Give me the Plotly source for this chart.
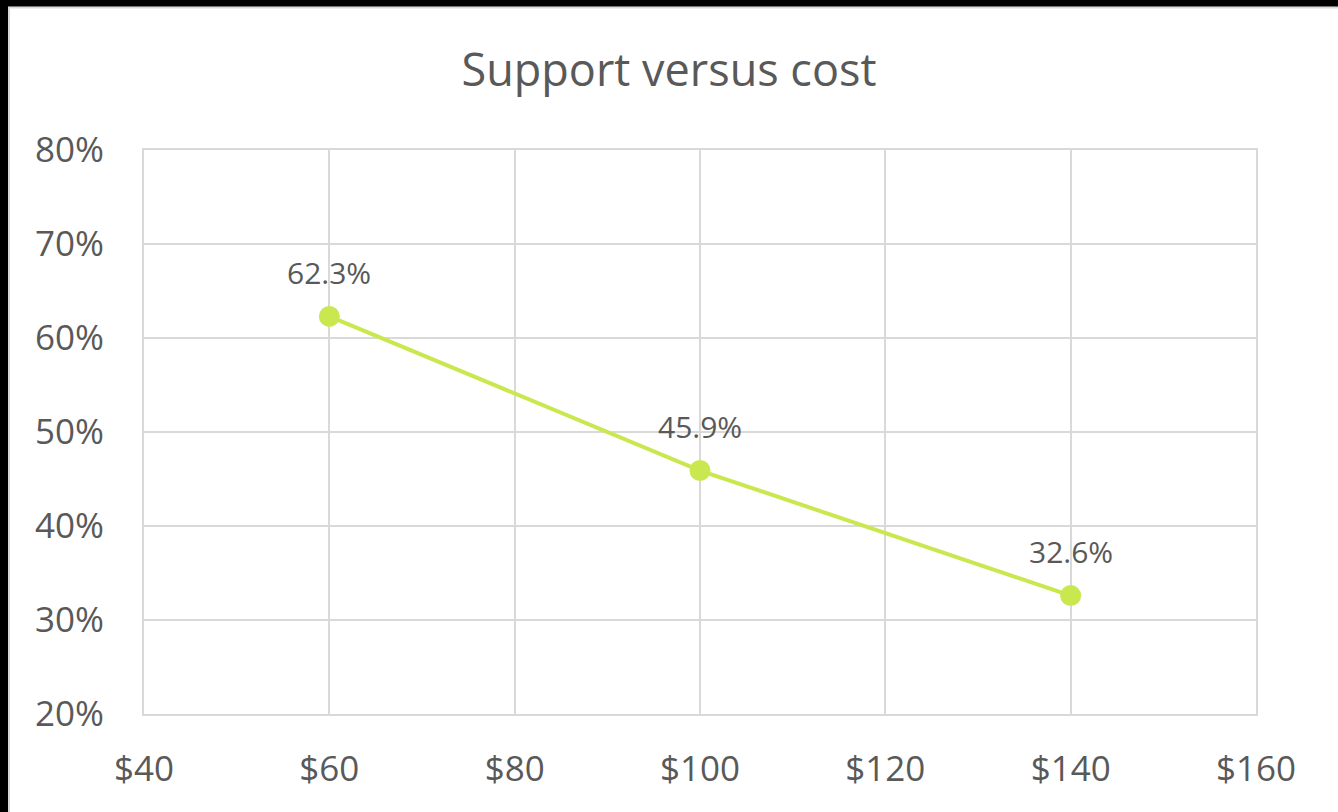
import plotly.graph_objects as go

costs = [60, 100, 140]
support = [0.623, 0.459, 0.326]
labels = ["62.3%", "45.9%", "32.6%"]
x_ticks = [40, 60, 80, 100, 120, 140, 160]
x_tick_text = ["$40", "$60", "$80", "$100", "$120", "$140", "$160"]
y_ticks = [0.2, 0.3, 0.4, 0.5, 0.6, 0.7, 0.8]
y_tick_text = ["20%", "30%", "40%", "50%", "60%", "70%", "80%"]
title = "Support versus cost"

W, H = 1338, 812
L, R, T, B = 144, 82, 150, 98
pw, ph = W - L - R, H - T - B

def px_x(px):
    return (px - L) / pw

def px_y(py):
    return (H - B - py) / ph

green = "#c9e84f"
grid = "#d9d9d9"
txt = "#595959"
font = "Open Sans"

fig = go.Figure()
fig.add_trace(go.Scatter(
    x=costs, y=support, mode="lines+markers",
    line=dict(color=green, width=4),
    marker=dict(color=green, size=21),
    hoverinfo="skip", showlegend=False,
))

for xv, yv, lab in zip(costs, support, labels):
    fig.add_annotation(x=xv, y=yv, text=lab, showarrow=False, yshift=44,
                       font=dict(family=font, size=30, color=txt))

fig.update_layout(
    width=W, height=H,
    margin=dict(l=L, r=R, t=T, b=B),
    paper_bgcolor="white", plot_bgcolor="white",
    title=dict(text=title, x=0.5, xanchor="center", y=1 - 70 / H, yanchor="middle",
               font=dict(family=font, size=45, color=txt)),
    xaxis=dict(range=[40, 160], tickvals=x_ticks, ticktext=x_tick_text,
               showgrid=True, gridcolor=grid, gridwidth=2,
               showline=True, linecolor=grid, linewidth=2, mirror=True,
               zeroline=False, ticks="", ticklabelstandoff=23,
               tickfont=dict(family=font, size=35, color=txt)),
    yaxis=dict(range=[0.2, 0.8], tickvals=y_ticks, ticktext=y_tick_text,
               showgrid=True, gridcolor=grid, gridwidth=2,
               showline=True, linecolor=grid, linewidth=2, mirror=True,
               zeroline=False, ticks="", ticklabelstandoff=31,
               tickfont=dict(family=font, size=35, color=txt)),
    shapes=[
        dict(type="rect", xref="paper", yref="paper",
             x0=px_x(9), x1=px_x(W + 20), y0=px_y(H + 20), y1=px_y(7.5),
             line=dict(color=grid, width=2), fillcolor="rgba(0,0,0,0)", layer="below"),
        dict(type="rect", xref="paper", yref="paper",
             x0=px_x(-5), x1=px_x(8), y0=px_y(H + 5), y1=px_y(-5),
             line=dict(width=0), fillcolor="black", layer="above"),
        dict(type="rect", xref="paper", yref="paper",
             x0=px_x(-5), x1=px_x(W + 5), y0=px_y(6.5), y1=px_y(-5),
             line=dict(width=0), fillcolor="black", layer="above"),
    ],
)

fig.write_html(
    "out.html",
    config={"displayModeBar": False},
    post_script=(
        "document.body.style.margin='0';"
        "document.body.style.overflow='hidden';"
        "document.documentElement.style.overflow='hidden';"
        "document.body.style.background='white';"
        "document.documentElement.style.background='white';"
    ),
)
